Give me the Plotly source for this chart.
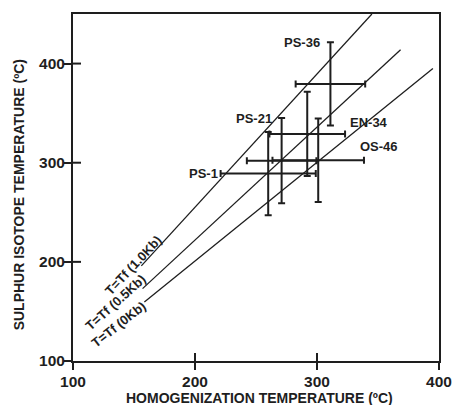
import plotly.graph_objects as go

# Fluid-inclusion homogenization temperature vs. sulphur-isotope temperature
samples = ["PS-1", "PS-21", "EN-34", "OS-46", "PS-36"]
th = [260, 271, 292, 301, 311]          # homogenization temperature (ºC)
th_err = [39, 28.5, 31, 37.5, 28.5]
ts = [289, 302, 329, 302.5, 379.5]      # sulphur isotope temperature (ºC)
ts_err = [42, 43, 42.5, 42, 42]

# Pressure-corrected trapping lines T = Tf
line_names = ["T=Tf (1.0Kb)", "T=Tf (0.5Kb)", "T=Tf (0Kb)"]
line_x = [[156, 345], [157, 368.5], [158.5, 395]]
line_y = [[196, 450], [173, 414], [159.5, 395]]

tick_vals = [100, 200, 300, 400]

INK = "#1e1e1e"
FONT = "Liberation Sans, Arial, Helvetica, sans-serif"

fig = go.Figure()

for lx, ly in zip(line_x, line_y):
    fig.add_trace(go.Scatter(x=lx, y=ly, mode="lines",
                             line=dict(color=INK, width=1.3),
                             hoverinfo="skip", showlegend=False))

fig.add_trace(go.Scatter(
    x=th, y=ts, mode="markers",
    marker=dict(size=2, color=INK),
    error_x=dict(type="data", array=th_err, color=INK, thickness=2, width=3.5),
    error_y=dict(type="data", array=ts_err, color=INK, thickness=2, width=3.5),
    text=samples, showlegend=False))

ann = []
lab_font = dict(family=FONT, size=13, color=INK, weight="bold")

# sample labels placed beside the ends of their error bars
i = samples.index("PS-36")
ann.append(dict(x=th[i], y=ts[i] + ts_err[i], text="PS-36", xanchor="right",
                yanchor="middle", xshift=-8, showarrow=False, font=lab_font))
i = samples.index("PS-21")
ann.append(dict(x=th[i], y=ts[i] + ts_err[i], text="PS-21", xanchor="right",
                yanchor="middle", xshift=-8, showarrow=False, font=lab_font))
i = samples.index("PS-1")
ann.append(dict(x=th[i] - th_err[i], y=ts[i], text="PS-1", xanchor="right",
                yanchor="middle", xshift=-1, showarrow=False, font=lab_font))
i = samples.index("EN-34")
ann.append(dict(x=th[i] + th_err[i], y=ts[i], text="EN-34", xanchor="left",
                yanchor="middle", xshift=3, yshift=11, showarrow=False, font=lab_font))
i = samples.index("OS-46")
ann.append(dict(x=th[i] + th_err[i], y=ts[i], text="OS-46", xanchor="left",
                yanchor="middle", xshift=-6, yshift=14, showarrow=False, font=lab_font))

# line labels running parallel to each line near its lower end
line_label_style = [(-8, 0, -46.8), (-27, -14, -42.1), (-26, -22, -38.2)]
for name, lx, ly, (dx, dy, ang) in zip(line_names, line_x, line_y, line_label_style):
    ann.append(dict(x=lx[0], y=ly[0], text=name, textangle=ang, xshift=dx, yshift=dy,
                    xanchor="center", yanchor="middle", showarrow=False,
                    font=dict(family=FONT, size=13, color=INK, weight="bold")))

# axis titles
title_font = dict(family=FONT, size=14, color=INK, weight="bold")
ann.append(dict(x=0.51, y=-0.106, xref="paper", yref="paper",
                text="HOMOGENIZATION TEMPERATURE (ºC)", showarrow=False,
                xanchor="center", yanchor="middle", font=title_font))
ann.append(dict(x=-0.145, y=0.48, xref="paper", yref="paper",
                text="SULPHUR ISOTOPE TEMPERATURE (ºC)", textangle=-90, showarrow=False,
                xanchor="center", yanchor="middle", font=title_font))

# inner halves of the crossing tick marks
shapes = []
for v in tick_vals[1:3]:
    shapes.append(dict(type="line", xref="x", yref="y", x0=v, x1=v,
                       ysizemode="pixel", yanchor=100, y0=0, y1=8,
                       line=dict(color=INK, width=2)))
for v in tick_vals[1:]:
    shapes.append(dict(type="line", xref="x", yref="y", y0=v, y1=v,
                       xsizemode="pixel", xanchor=100, x0=0, x1=8,
                       line=dict(color=INK, width=2)))

axis_common = dict(showline=True, mirror=True, linecolor=INK, linewidth=2,
                   showgrid=False, zeroline=False, ticks="outside", ticklen=7,
                   tickwidth=2, tickcolor=INK, tickvals=tick_vals,
                   tickfont=dict(family=FONT, size=15.5, color=INK, weight="bold"))

fig.update_layout(
    width=464, height=405,
    margin=dict(l=73, r=14, t=12, b=44),
    paper_bgcolor="white", plot_bgcolor="white",
    xaxis=dict(range=[100, 400], ticklabelstandoff=-2, **axis_common),
    yaxis=dict(range=[100, 450], ticklabelstandoff=-4, **axis_common),
    annotations=ann, shapes=shapes,
    showlegend=False,
)

fig.write_html("out.html")
